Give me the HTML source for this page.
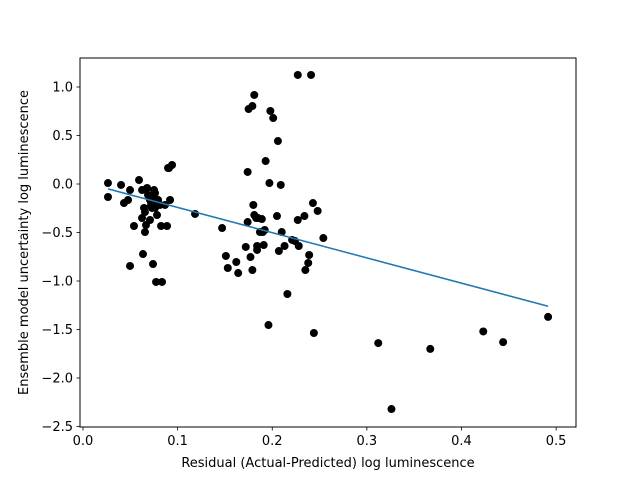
<!DOCTYPE html>
<html><head><meta charset="utf-8"><style>
html,body{margin:0;padding:0;background:#fff;}
svg text{font-family:"DejaVu Sans","Liberation Sans",sans-serif;font-size:13px;fill:#000;}
</style></head><body>
<svg id="chart" width="640" height="480" xmlns="http://www.w3.org/2000/svg"></svg>
<script>
const xData=[0.0264,0.0264,0.0402,0.0433,0.0476,0.0497,0.0539,0.0497,0.0592,0.0624,0.0624,0.0634,0.0645,0.0655,0.0666,0.0655,0.0677,0.0687,0.0708,0.0708,0.0719,0.0729,0.0740,0.0751,0.0761,0.0761,0.0761,0.0761,0.0772,0.0782,0.0793,0.0814,0.0825,0.0835,0.0867,0.0888,0.0899,0.0909,0.0920,0.0941,0.1184,
0.147,0.151,0.153,0.162,0.164,0.172,0.174,0.174,0.175,0.177,
0.179,0.179,0.180,0.181,0.181,0.183,0.184,0.184,0.185,0.187,
0.189,0.190,0.191,0.192,0.193,0.196,0.197,0.198,0.201,0.205,
0.206,0.207,0.209,0.210,0.213,0.216,0.221,0.224,0.227,0.227,
0.228,0.234,0.235,0.238,0.239,0.241,0.243,0.244,0.248,0.254,
0.312,0.326,0.367,0.423,0.444,0.4915];
const yData=[0.010,-0.134,-0.010,-0.196,-0.165,-0.062,-0.433,-0.845,0.041,-0.062,-0.351,-0.722,-0.247,-0.289,-0.423,-0.495,-0.041,-0.113,-0.165,-0.371,-0.216,-0.247,-0.825,-0.062,-0.093,-0.144,-0.186,-0.247,-1.010,-0.320,-0.165,-0.216,-0.433,-1.010,-0.216,-0.433,0.165,0.165,-0.165,0.196,-0.309,
-0.454,-0.742,-0.866,-0.804,-0.918,-0.649,0.124,-0.392,0.773,-0.753,
0.804,-0.887,-0.216,0.918,-0.320,-0.351,-0.680,-0.639,-0.351,-0.495,
-0.361,-0.495,-0.629,-0.474,0.237,-1.454,0.010,0.753,0.680,-0.330,
0.443,-0.691,-0.010,-0.495,-0.639,-1.134,-0.577,-0.588,1.124,-0.371,
-0.639,-0.330,-0.887,-0.814,-0.732,1.124,-0.196,-1.536,-0.278,-0.557,
-1.64,-2.32,-1.70,-1.52,-1.63,-1.37];
const fitX=[0.0264,0.4915];
const fitY=[-0.05,-1.26];
const xTicks=[0.0,0.1,0.2,0.3,0.4,0.5];
const xTickLabels=["0.0","0.1","0.2","0.3","0.4","0.5"];
const yTicks=[1.0,0.5,0.0,-0.5,-1.0,-1.5,-2.0,-2.5];
const yTickLabels=["1.0","0.5","0.0","\u22120.5","\u22121.0","\u22121.5","\u22122.0","\u22122.5"];

const svg=document.getElementById('chart');
const NS='http://www.w3.org/2000/svg';
const L=80,R=576,T=58,B=427;
const xMin=-0.00317,xMax=0.521,yMin=-2.505,yMax=1.299;
const sx=v=>L+(v-xMin)/(xMax-xMin)*(R-L);
const sy=v=>B-(v-yMin)/(yMax-yMin)*(B-T);
function mk(tag,attrs,parent){const e=document.createElementNS(NS,tag);for(const k in attrs)e.setAttribute(k,attrs[k]);(parent||svg).appendChild(e);return e;}

const pts=mk('g',{});


const n=Math.min(xData.length,yData.length);
for(let i=0;i<n;i++){
  const c=mk('circle',{cx:sx(xData[i]),cy:sy(yData[i]),r:4,fill:'#000'},pts);
  
  
}
const fl=mk('line',{x1:sx(fitX[0]),y1:sy(fitY[0]),x2:sx(fitX[1]),y2:sy(fitY[1]),stroke:'#1f77b4','stroke-width':1.5});



const frame=mk('rect',{x:L,y:T,width:R-L,height:B-T,fill:'none',stroke:'#000','stroke-width':1});



const xg=mk('g',{});


xTicks.forEach((v,i)=>{
  const x=sx(v);
  mk('line',{x1:x,y1:B,x2:x,y2:B+3.5,stroke:'#000','stroke-width':0.8},xg);
  const t=mk('text',{x:x,y:B+18,'text-anchor':'middle'},xg);
  t.textContent=xTickLabels[i];
  
  
});
const yg=mk('g',{});


yTicks.forEach((v,i)=>{
  const y=sy(v);
  mk('line',{x1:L-3.5,y1:y,x2:L,y2:y,stroke:'#000','stroke-width':0.8},yg);
  const t=mk('text',{x:L-7,y:y+4.5,'text-anchor':'end'},yg);
  t.textContent=yTickLabels[i];
  
  
});
const xt=mk('text',{x:(L+R)/2,y:467,'text-anchor':'middle'});
xt.textContent='Residual (Actual-Predicted) log luminescence';


const yt=mk('text',{x:0,y:0,'text-anchor':'middle',transform:'translate(28,'+((T+B)/2)+') rotate(-90)'});
yt.textContent='Ensemble model uncertainty log luminescence';


</script>
</body></html>
